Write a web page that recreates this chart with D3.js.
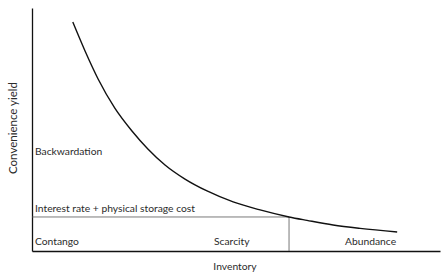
<!DOCTYPE html>
<html>
<head>
<meta charset="utf-8">
<script src="https://cdn.jsdelivr.net/npm/d3@7"></script>
<style>
  body { margin: 0; background: #fff; }
  text { font-family: Lato, "Open Sans", sans-serif; fill: #2b2b2b; }
</style>
</head>
<body>
<div id="chart"></div>
<script>
// convenience yield curve (inventory -> yield)
const inventory = [1.00, 1.30, 1.62, 2.03, 2.45, 2.84, 3.26, 3.75, 4.29, 4.93, 5.59, 6.30, 6.74, 7.38, 8.04, 8.95]
const convYield = [9.42, 8.23, 7.08, 5.88, 4.94, 4.20, 3.54, 2.96, 2.47, 2.02, 1.69, 1.40, 1.26, 1.07, 0.93, 0.78]

// interest rate + physical storage cost level, and where the curve crosses it
const costLevel = 1.40
const crossInventory = 6.30

const regionLabels = ['Backwardation', 'Interest rate + physical storage cost', 'Contango', 'Scarcity', 'Abundance']

const width = 447, height = 277
const margin = {left: 32, right: 7, top: 8, bottom: 26}

const svg = d3.select('#chart').append('svg')
  .attr('width', width)
  .attr('height', height)

const x = d3.scaleLinear().domain([0, 10]).range([margin.left, width - margin.right])
const y = d3.scaleLinear().domain([0, 10]).range([height - margin.bottom, margin.top])

// axes, no ticks
svg.append('g')
  .attr('transform', 'translate(0,' + y(0) + ')')
  .call(d3.axisBottom(x).tickValues([]).tickSizeOuter(0))
  .select('.domain').attr('stroke', '#111').attr('stroke-width', 1.3)

svg.append('g')
  .attr('transform', 'translate(' + x(0) + ',0)')
  .call(d3.axisLeft(y).tickValues([]).tickSizeOuter(0))
  .select('.domain').attr('stroke', '#111').attr('stroke-width', 1.3)

// cost line and the scarcity / abundance split
svg.append('line')
  .attr('x1', x(0)).attr('x2', x(crossInventory))
  .attr('y1', y(costLevel)).attr('y2', y(costLevel))
  .attr('stroke', '#555').attr('stroke-width', 0.8)

svg.append('line')
  .attr('x1', x(crossInventory)).attr('x2', x(crossInventory))
  .attr('y1', y(costLevel)).attr('y2', y(0))
  .attr('stroke', '#555').attr('stroke-width', 0.8)

const pts = inventory.map((v, i) => [v, convYield[i]])

svg.append('path')
  .datum(pts)
  .attr('fill', 'none')
  .attr('stroke', '#111')
  .attr('stroke-width', 1.4)
  .attr('d', d3.line().x(d => x(d[0])).y(d => y(d[1])).curve(d3.curveMonotoneX))

// labels
const labelPos = [
  [35, 155],
  [35, 212],
  [35, 245],
  [214, 245],
  [345, 245]
]
svg.selectAll('text.region')
  .data(regionLabels)
  .join('text')
  .attr('class', 'region')
  .attr('x', (d, i) => labelPos[i][0])
  .attr('y', (d, i) => labelPos[i][1])
  .attr('font-size', 10.3)
  .text(d => d)

svg.append('text')
  .attr('x', 235)
  .attr('y', 270)
  .attr('text-anchor', 'middle')
  .attr('font-size', 10.3)
  .text('Inventory')

svg.append('text')
  .attr('transform', 'translate(17,128) rotate(-90)')
  .attr('text-anchor', 'middle')
  .attr('font-size', 11.5)
  .text('Convenience yield')
</script>
</body>
</html>
